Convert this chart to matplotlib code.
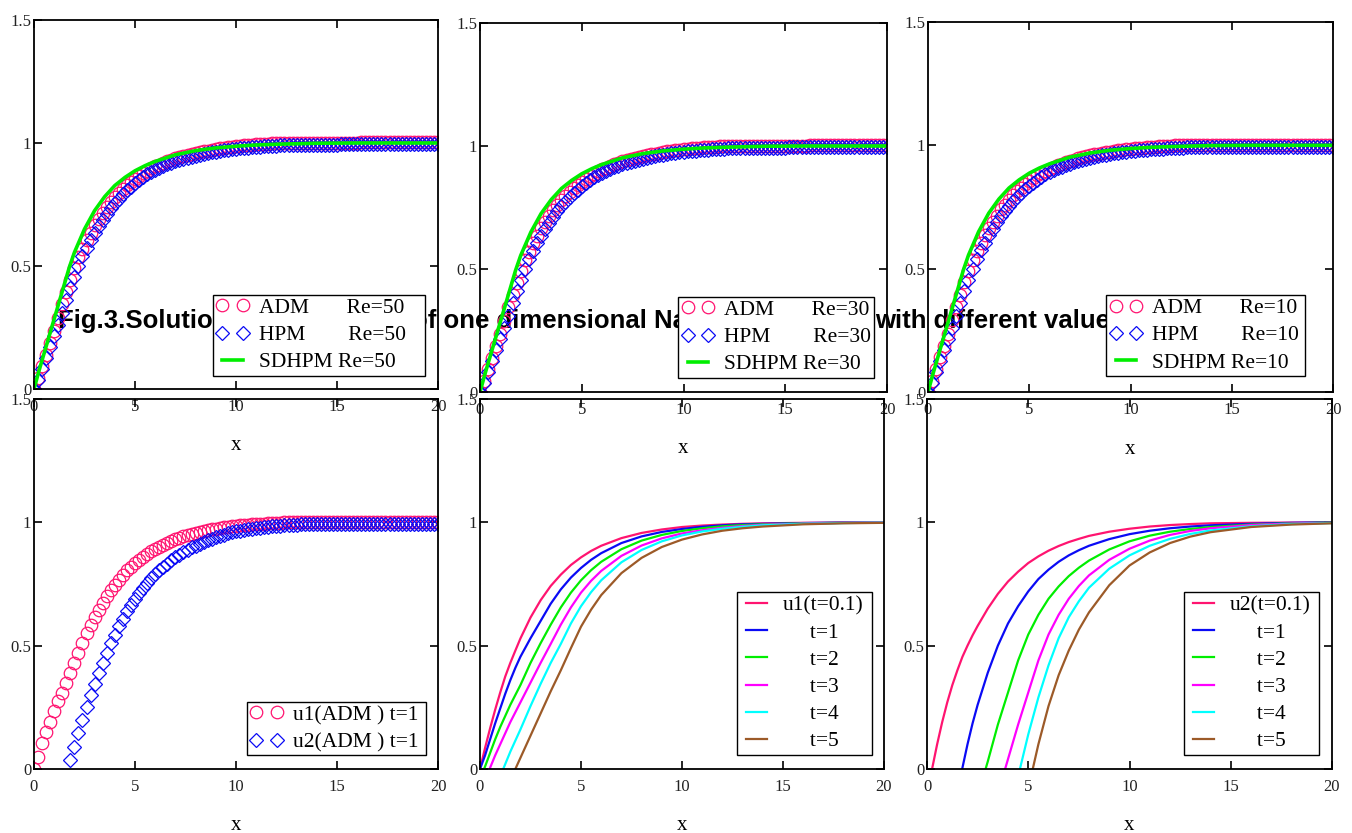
import numpy as np
import matplotlib
matplotlib.use("Agg")
import matplotlib.pyplot as plt

# ---------------- data ----------------
X_MARK = [0.0, 0.2, 0.4, 0.6, 0.8, 1.0, 1.2, 1.4, 1.6, 1.8,
          2.0, 2.2, 2.4, 2.6, 2.8, 3.0, 3.2, 3.4, 3.6, 3.8,
          4.0, 4.2, 4.4, 4.6, 4.8, 5.0, 5.2, 5.4, 5.6, 5.8,
          6.0, 6.2, 6.4, 6.6, 6.8, 7.0, 7.2, 7.4, 7.6, 7.8,
          8.0, 8.2, 8.4, 8.6, 8.8, 9.0, 9.2, 9.4, 9.6, 9.8,
          10.0, 10.2, 10.4, 10.6, 10.8, 11.0, 11.2, 11.4, 11.6, 11.8,
          12.0, 12.2, 12.4, 12.6, 12.8, 13.0, 13.2, 13.4, 13.6, 13.8,
          14.0, 14.2, 14.4, 14.6, 14.8, 15.0, 15.2, 15.4, 15.6, 15.8,
          16.0, 16.2, 16.4, 16.6, 16.8, 17.0, 17.2, 17.4, 17.6, 17.8,
          18.0, 18.2, 18.4, 18.6, 18.8, 19.0, 19.2, 19.4, 19.6, 19.8, 20.0]

ADM_TOP = [0.000, 0.045, 0.095, 0.140, 0.185, 0.235, 0.290, 0.345, 0.395, 0.445,
           0.490, 0.535, 0.570, 0.605, 0.635, 0.665, 0.690, 0.715, 0.740, 0.760,
           0.780, 0.797, 0.813, 0.828, 0.842, 0.855, 0.867, 0.878, 0.888, 0.897,
           0.905, 0.912, 0.919, 0.925, 0.931, 0.937, 0.942, 0.947, 0.951, 0.955,
           0.959, 0.963, 0.966, 0.969, 0.972, 0.975, 0.978, 0.980, 0.982, 0.984,
           0.986, 0.988, 0.990, 0.991, 0.993, 0.994, 0.995, 0.996, 0.997, 0.998,
           0.999, 1.000, 1.001, 1.001, 1.001, 1.001, 1.001, 1.001, 1.001, 1.001,
           1.001, 1.002, 1.002, 1.002, 1.002, 1.002, 1.002, 1.002, 1.002, 1.002,
           1.002, 1.003, 1.003, 1.003, 1.003, 1.003, 1.003, 1.003, 1.003, 1.003,
           1.003, 1.003, 1.003, 1.003, 1.003, 1.003, 1.003, 1.003, 1.003, 1.003, 1.003]

HPM_TOP = [0.000, 0.035, 0.080, 0.125, 0.170, 0.215, 0.260, 0.310, 0.360, 0.410,
           0.455, 0.500, 0.540, 0.575, 0.605, 0.635, 0.662, 0.688, 0.712, 0.734,
           0.755, 0.774, 0.791, 0.807, 0.822, 0.836, 0.849, 0.861, 0.872, 0.882,
           0.891, 0.899, 0.907, 0.914, 0.920, 0.926, 0.931, 0.936, 0.941, 0.945,
           0.949, 0.953, 0.956, 0.959, 0.962, 0.965, 0.968, 0.970, 0.972, 0.974,
           0.976, 0.978, 0.980, 0.981, 0.983, 0.984, 0.985, 0.986, 0.987, 0.988,
           0.989, 0.990, 0.990, 0.991, 0.992, 0.992, 0.993, 0.993, 0.993, 0.993,
           0.993, 0.993, 0.993, 0.993, 0.993, 0.993, 0.994, 0.994, 0.994, 0.994,
           0.994, 0.994, 0.994, 0.994, 0.994, 0.994, 0.994, 0.994, 0.994, 0.994,
           0.994, 0.995, 0.995, 0.995, 0.995, 0.995, 0.995, 0.995, 0.995, 0.995, 0.995]

X_SD = [0, 0.25, 0.5, 0.75, 1, 1.25, 1.5, 1.75, 2, 2.5, 3, 3.5, 4, 4.5,
        5, 5.5, 6, 7, 8, 9, 10, 11, 12, 13, 14, 16, 18, 20]
SDHPM_TOP = [0.0, 0.075, 0.145, 0.215, 0.285, 0.355, 0.425, 0.495, 0.555, 0.650,
             0.725, 0.782, 0.827, 0.860, 0.887, 0.908, 0.925, 0.952, 0.969, 0.980,
             0.987, 0.992, 0.995, 0.997, 0.999, 1.000, 1.000, 1.000]

RE_VALUES = [50, 30, 10]

U1_ADM_T1 = [0.000, 0.050, 0.105, 0.150, 0.190, 0.235, 0.275, 0.310, 0.350, 0.390,
             0.430, 0.470, 0.510, 0.550, 0.585, 0.615, 0.645, 0.675, 0.700, 0.725,
             0.745, 0.765, 0.785, 0.805, 0.820, 0.835, 0.848, 0.860, 0.872, 0.883,
             0.893, 0.902, 0.910, 0.918, 0.925, 0.932, 0.938, 0.944, 0.949, 0.954,
             0.958, 0.962, 0.966, 0.969, 0.972, 0.975, 0.978, 0.980, 0.982, 0.984,
             0.986, 0.988, 0.989, 0.991, 0.992, 0.993, 0.994, 0.995, 0.996, 0.997,
             0.998, 0.999, 1.000, 1.000, 1.000, 1.000, 1.000, 1.000, 1.000, 1.000,
             1.000, 1.001, 1.001, 1.001, 1.001, 1.001, 1.001, 1.001, 1.001, 1.001,
             1.001, 1.001, 1.001, 1.001, 1.001, 1.001, 1.002, 1.002, 1.002, 1.002,
             1.002, 1.002, 1.002, 1.002, 1.002, 1.002, 1.002, 1.002, 1.002, 1.002, 1.002]

U2_ADM_T1 = [None, None, None, None, None, None, None, None, None, 0.035,
             0.090, 0.145, 0.200, 0.250, 0.300, 0.345, 0.390, 0.430, 0.470, 0.510,
             0.545, 0.580, 0.610, 0.640, 0.665, 0.690, 0.715, 0.735, 0.755, 0.775,
             0.790, 0.805, 0.820, 0.833, 0.846, 0.858, 0.869, 0.879, 0.889, 0.898,
             0.906, 0.914, 0.921, 0.928, 0.934, 0.940, 0.945, 0.950, 0.955, 0.959,
             0.963, 0.966, 0.969, 0.972, 0.975, 0.977, 0.979, 0.981, 0.983, 0.985,
             0.986, 0.987, 0.988, 0.989, 0.990, 0.991, 0.992, 0.992, 0.993, 0.993,
             0.994, 0.994, 0.994, 0.994, 0.994, 0.994, 0.994, 0.994, 0.994, 0.994,
             0.994, 0.995, 0.995, 0.995, 0.995, 0.995, 0.995, 0.995, 0.995, 0.995,
             0.995, 0.995, 0.995, 0.995, 0.995, 0.995, 0.995, 0.995, 0.995, 0.995, 0.995]

X_U1 = [0, 0.25, 0.5, 0.75, 1, 1.25, 1.5, 1.75, 2, 2.5, 3, 3.5, 4, 4.5,
        5, 5.5, 6, 7, 8, 9, 10, 11, 12, 13, 14, 16, 18, 20]
U1_T = {
    "0.1": [0.0, 0.085, 0.165, 0.24, 0.31, 0.375, 0.43, 0.48, 0.529, 0.614, 0.684, 0.742, 0.788, 0.827,
            0.858, 0.884, 0.905, 0.936, 0.957, 0.971, 0.981, 0.987, 0.991, 0.994, 0.996, 0.998, 0.999, 1.0],
    "1": [0.0, 0.055, 0.12, 0.185, 0.245, 0.305, 0.36, 0.41, 0.455, 0.53, 0.60, 0.67, 0.728, 0.776,
          0.815, 0.848, 0.875, 0.916, 0.943, 0.961, 0.973, 0.982, 0.988, 0.992, 0.994, 0.997, 0.999, 1.0],
    "2": [-0.04, 0.01, 0.065, 0.12, 0.17, 0.215, 0.26, 0.30, 0.34, 0.43, 0.51, 0.585, 0.655, 0.715,
          0.765, 0.806, 0.84, 0.891, 0.926, 0.949, 0.965, 0.976, 0.984, 0.989, 0.992, 0.996, 0.998, 1.0],
    "3": [None, -0.04, 0.005, 0.055, 0.10, 0.145, 0.19, 0.23, 0.27, 0.35, 0.43, 0.507, 0.585, 0.655,
          0.715, 0.763, 0.803, 0.864, 0.906, 0.935, 0.955, 0.968, 0.978, 0.985, 0.99, 0.995, 0.998, 1.0],
    "4": [None, None, None, None, -0.03, 0.02, 0.07, 0.115, 0.16, 0.255, 0.345, 0.43, 0.507, 0.59,
          0.66, 0.717, 0.765, 0.838, 0.888, 0.923, 0.947, 0.963, 0.974, 0.982, 0.988, 0.994, 0.997, 0.999],
    "5": [None, None, None, None, None, None, -0.05, 0.0, 0.045, 0.135, 0.225, 0.315, 0.40, 0.49,
          0.577, 0.646, 0.705, 0.794, 0.856, 0.90, 0.93, 0.951, 0.966, 0.976, 0.983, 0.992, 0.996, 0.998],
}

X_U2 = [0, 0.25, 0.5, 0.75, 1, 1.25, 1.5, 1.75, 2, 2.25, 2.5, 3, 3.5, 4, 4.5, 5, 5.5,
        6, 6.5, 7, 7.5, 8, 9, 10, 11, 12, 13, 14, 16, 18, 20]
U2_T = {
    "0.1": [-0.1, 0.0, 0.10, 0.19, 0.27, 0.34, 0.40, 0.455, 0.50, 0.542, 0.58, 0.65, 0.71, 0.76, 0.80,
            0.835, 0.862, 0.885, 0.904, 0.92, 0.933, 0.945, 0.962, 0.974, 0.983, 0.989, 0.993, 0.996,
            0.998, 0.999, 1.0],
    "1": [None, None, None, None, None, None, -0.09, 0.005, 0.10, 0.185, 0.26, 0.39, 0.50, 0.59, 0.66,
          0.72, 0.77, 0.808, 0.84, 0.866, 0.887, 0.905, 0.932, 0.952, 0.966, 0.976, 0.983, 0.988,
          0.994, 0.998, 1.0],
    "2": [None, None, None, None, None, None, None, None, None, None, -0.11, 0.03, 0.18, 0.31, 0.44,
          0.545, 0.625, 0.69, 0.74, 0.782, 0.816, 0.845, 0.89, 0.923, 0.946, 0.962, 0.973, 0.981,
          0.991, 0.996, 0.999],
    "3": [None, None, None, None, None, None, None, None, None, None, None, None, -0.1, 0.04, 0.18,
          0.31, 0.44, 0.545, 0.625, 0.69, 0.742, 0.785, 0.848, 0.893, 0.926, 0.949, 0.965, 0.976,
          0.989, 0.995, 0.998],
    "4": [None, None, None, None, None, None, None, None, None, None, None, None, None, None, -0.03,
          0.14, 0.29, 0.42, 0.53, 0.615, 0.68, 0.735, 0.812, 0.866, 0.905, 0.933, 0.953, 0.967,
          0.984, 0.993, 0.997],
    "5": [None, None, None, None, None, None, None, None, None, None, None, None, None, None, None,
          -0.08, 0.10, 0.255, 0.38, 0.48, 0.565, 0.635, 0.745, 0.825, 0.878, 0.916, 0.942, 0.96,
          0.981, 0.991, 0.996],
}

T_ORDER = ["0.1", "1", "2", "3", "4", "5"]
XTICKS = [0, 5, 10, 15, 20]
XTICKLABELS = ["0", "5", "10", "15", "20"]
YTICKS = [0, 0.5, 1, 1.5]
YTICKLABELS = ["0", "0.5", "1", "1.5"]

CAPTION_PARTS = ["Fig.3.Solution of the system ", "of one dimensional Navier-Stokes",
                 "with different values of Re"]

# ---------------- styling ----------------
PINK = "#FF1470"
BLUE = "#0A0AF5"
GREEN = "#00EE00"
MAGENTA = "#FF00FF"
CYAN = "#00FFFF"
BROWN = "#9C5A28"
T_COLORS = [PINK, BLUE, GREEN, MAGENTA, CYAN, BROWN]
SERIF = "Liberation Serif"

W, H = 1352, 833
fig = plt.figure(figsize=(W / 100, H / 100), dpi=100)


def rect(l, t, r, b):
    return [l / W, 1 - b / H, (r - l) / W, (b - t) / H]


def style(ax):
    ax.set_xlim(0, 20)
    ax.set_ylim(0, 1.5)
    ax.set_facecolor("none")
    ax.set_xticks(XTICKS)
    ax.set_xticklabels(XTICKLABELS, family=SERIF, fontsize=12, color="#222222")
    ax.set_yticks(YTICKS)
    ax.set_yticklabels(YTICKLABELS, family=SERIF, fontsize=12, color="#222222")
    ax.tick_params(direction="in", length=6, width=1.2, top=True, right=True)
    ax.tick_params(axis="x", pad=7)
    ax.tick_params(axis="y", pad=2)
    for s in ax.spines.values():
        s.set_linewidth(1.3)
    ax.set_xlabel("x", family=SERIF, fontsize=15)
    ax.xaxis.set_label_coords(0.5, -57 / 370)
    ax.xaxis.label.set_va("center")


def legend(ax, handles, labels, l, t, r):
    leg = ax.legend(handles, labels, loc="upper left",
                    bbox_to_anchor=(l / W, 1 - t / H, (r - l) / W, 0),
                    bbox_transform=fig.transFigure, mode="expand", borderaxespad=0,
                    prop=dict(family=SERIF, size=15.5), frameon=True, fancybox=False,
                    framealpha=1, edgecolor="black", borderpad=0.15, labelspacing=0.33,
                    handlelength=1.55, handletextpad=0.45, numpoints=2)
    leg.get_frame().set_linewidth(1.0)
    leg.set_zorder(10)
    return leg


CIRC = dict(linestyle="none", marker="o", mfc="none", mec=PINK, ms=9.0, mew=0.9)
DIAM = dict(linestyle="none", marker="D", mfc="none", mec=BLUE, ms=7.0, mew=0.9)

# caption (drawn beneath the transparent axes, partly hidden by the legends)
for xpos, part in zip([58, 412, 875], CAPTION_PARTS):
    fig.text(xpos / W, 1 - 328 / H, part, family="Liberation Sans", weight="bold",
             fontsize=18.5, va="baseline", ha="left", zorder=-1)

# ---------------- top row ----------------
TOP_RECTS = [(34, 20, 438, 389), (480, 23, 887, 392), (928, 22, 1333, 392)]
TOP_LEGS = [(212.7, 294.7, 425.3), (678, 296.7, 874), (1106, 295, 1305)]
for (l, t, r, b), (ll, lt, lr), re in zip(TOP_RECTS, TOP_LEGS, RE_VALUES):
    ax = fig.add_axes(rect(l, t, r, b))
    style(ax)
    h1, = ax.plot(X_MARK, ADM_TOP, **CIRC)
    h2, = ax.plot(X_MARK, HPM_TOP, **DIAM)
    h3, = ax.plot(X_SD, SDHPM_TOP, color=GREEN, lw=2.6)
    legend(ax, [h1, h2, h3],
           [f"ADM       Re={re}", f"HPM        Re={re}", f"SDHPM Re={re}"], ll, lt, lr)

# ---------------- bottom row ----------------
ax = fig.add_axes(rect(34, 399, 438, 769))
style(ax)
h1, = ax.plot(X_MARK, [np.nan if v is None else v for v in U1_ADM_T1], **CIRC)
h2, = ax.plot(X_MARK, [np.nan if v is None else v for v in U2_ADM_T1], **DIAM)
legend(ax, [h1, h2], ["u1(ADM ) t=1", "u2(ADM ) t=1"], 246.7, 701.7, 426)

for (l, t, r, b), xs, data, name, (ll, lt, lr) in [
        ((480, 399, 884, 769), X_U1, U1_T, "u1", (736.7, 592.3, 872.3)),
        ((927, 399, 1332, 769), X_U2, U2_T, "u2", (1183.7, 592.3, 1319))]:
    ax = fig.add_axes(rect(l, t, r, b))
    style(ax)
    hs = []
    for tk, c in zip(T_ORDER, T_COLORS):
        ys = [np.nan if v is None else v for v in data[tk]]
        h, = ax.plot(xs, ys, color=c, lw=1.6)
        hs.append(h)
    labels = [f"{name}(t=0.1)"] + [f"     t={tk}" for tk in T_ORDER[1:]]
    legend(ax, hs, labels, ll, lt, lr)

fig.savefig("out.png", dpi=100)
